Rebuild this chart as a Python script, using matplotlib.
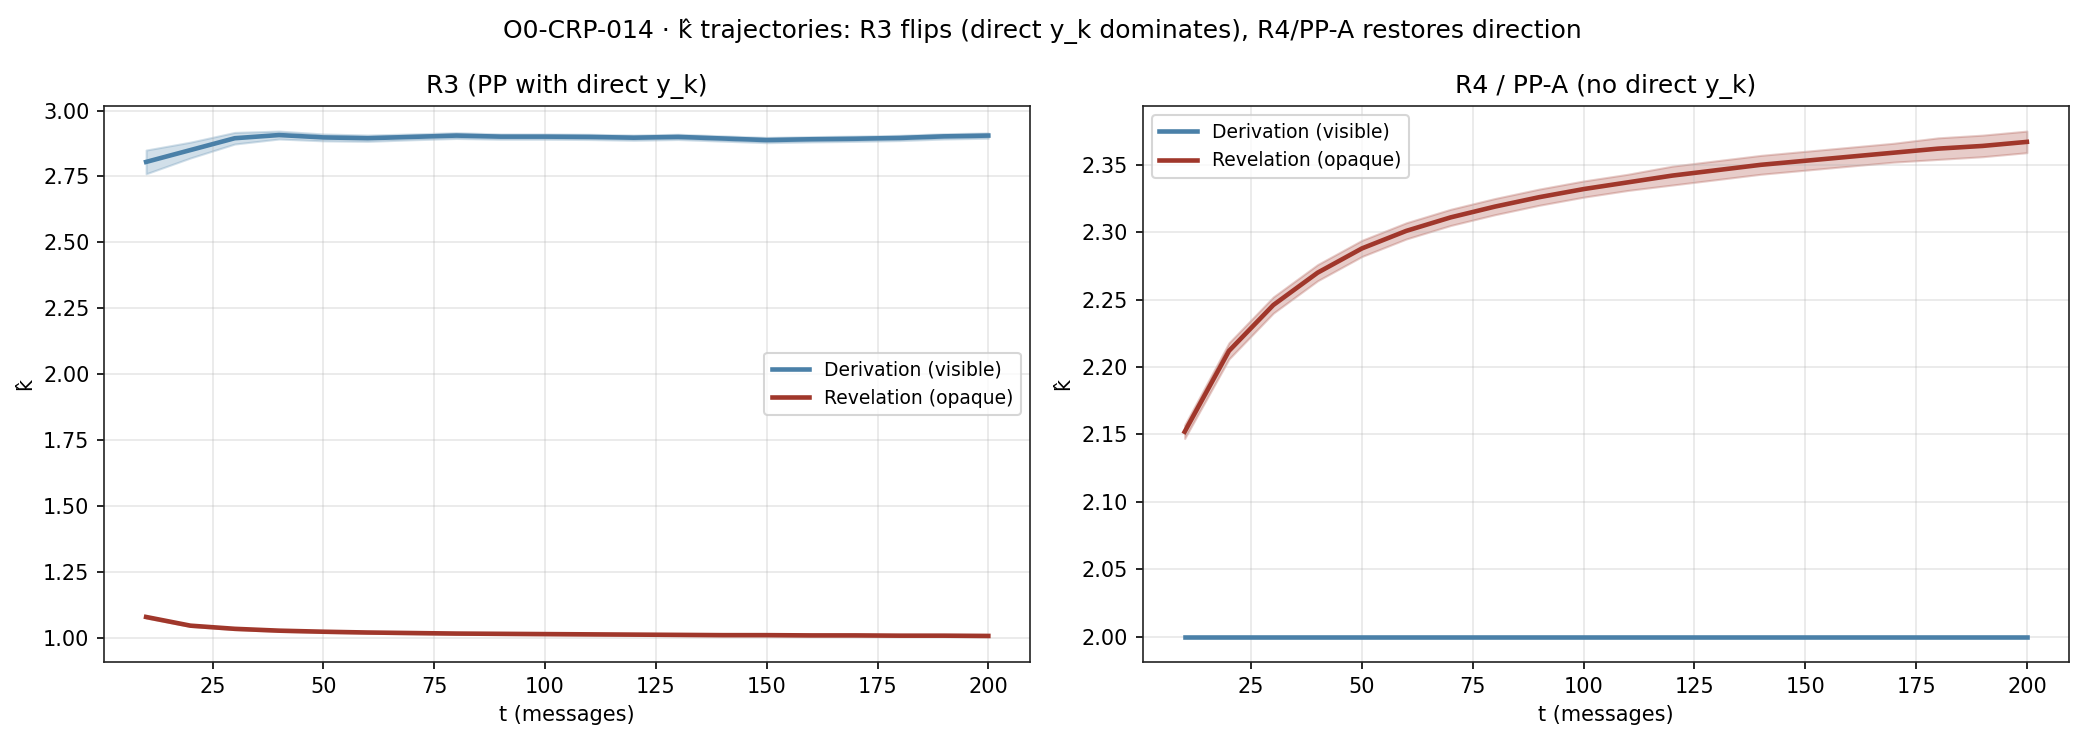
import numpy as np
import matplotlib.pyplot as plt

# %% data
t = [10, 20, 30, 40, 50, 60, 70, 80, 90, 100, 110, 120, 130, 140, 150, 160, 170, 180, 190, 200]

r3_deriv = [2.805, 2.850, 2.895, 2.907, 2.898, 2.895, 2.900, 2.905, 2.901, 2.901,
            2.900, 2.897, 2.900, 2.894, 2.888, 2.891, 2.893, 2.896, 2.902, 2.905]
r3_deriv_err = [0.045, 0.030, 0.022, 0.015, 0.013, 0.012, 0.011, 0.011, 0.010, 0.010,
                0.010, 0.010, 0.010, 0.010, 0.010, 0.010, 0.010, 0.010, 0.010, 0.010]
r3_revel = [1.078, 1.045, 1.033, 1.026, 1.022, 1.019, 1.017, 1.015, 1.014, 1.013,
            1.012, 1.011, 1.010, 1.009, 1.009, 1.008, 1.008, 1.007, 1.007, 1.006]
r3_revel_err = [0.004, 0.003, 0.003, 0.003, 0.003, 0.003, 0.003, 0.003, 0.003, 0.003,
                0.003, 0.003, 0.003, 0.003, 0.003, 0.003, 0.003, 0.003, 0.003, 0.003]

r4_deriv = [2.0] * 20
r4_revel = [2.152, 2.212, 2.246, 2.270, 2.288, 2.301, 2.311, 2.319, 2.326, 2.332,
            2.337, 2.342, 2.346, 2.350, 2.353, 2.356, 2.359, 2.362, 2.364, 2.367]
r4_revel_err = [0.005, 0.006, 0.006, 0.006, 0.006, 0.006, 0.006, 0.006, 0.006, 0.006,
                0.006, 0.007, 0.007, 0.007, 0.007, 0.007, 0.007, 0.008, 0.008, 0.008]

blue = "#4a80a8"
red = "#a0372b"

# %% plot
fig, axes = plt.subplots(1, 2, figsize=(2084 / 150, 740 / 150), dpi=150)
fig.subplots_adjust(left=0.0499, right=0.9928, top=0.857, bottom=0.1054, wspace=0.121)

ax = axes[0]
lo = np.array(r3_deriv) - np.array(r3_deriv_err)
hi = np.array(r3_deriv) + np.array(r3_deriv_err)
ax.fill_between(t, lo, hi, color=blue, alpha=0.25)
ax.plot(t, r3_deriv, color=blue, lw=2.2, label="Derivation (visible)")
lo = np.array(r3_revel) - np.array(r3_revel_err)
hi = np.array(r3_revel) + np.array(r3_revel_err)
ax.fill_between(t, lo, hi, color=red, alpha=0.25)
ax.plot(t, r3_revel, color=red, lw=2.2, label="Revelation (opaque)")
ax.set_title("R3 (PP with direct y_k)", fontsize=12)
ax.set_xlabel("t (messages)")
ax.set_ylabel("k\u0302")
ax.grid(alpha=0.3)
ax.legend(loc="center right", fontsize=9)

ax = axes[1]
ax.plot(t, r4_deriv, color=blue, lw=2.2, label="Derivation (visible)")
lo = np.array(r4_revel) - np.array(r4_revel_err)
hi = np.array(r4_revel) + np.array(r4_revel_err)
ax.fill_between(t, lo, hi, color=red, alpha=0.25)
ax.plot(t, r4_revel, color=red, lw=2.2, label="Revelation (opaque)")
ax.set_title("R4 / PP-A (no direct y_k)", fontsize=12)
ax.set_xlabel("t (messages)")
ax.set_ylabel("k\u0302")
ax.grid(alpha=0.3)
ax.legend(loc="upper left", fontsize=9)

for ax in axes:
    for s in ax.spines.values():
        s.set_color("#222222")

fig.suptitle("O0-CRP-014 \u00b7 k\u0302 trajectories: R3 flips (direct y_k dominates), R4/PP-A restores direction",
             fontsize=12, y=0.975)
plt.savefig("out.png")
